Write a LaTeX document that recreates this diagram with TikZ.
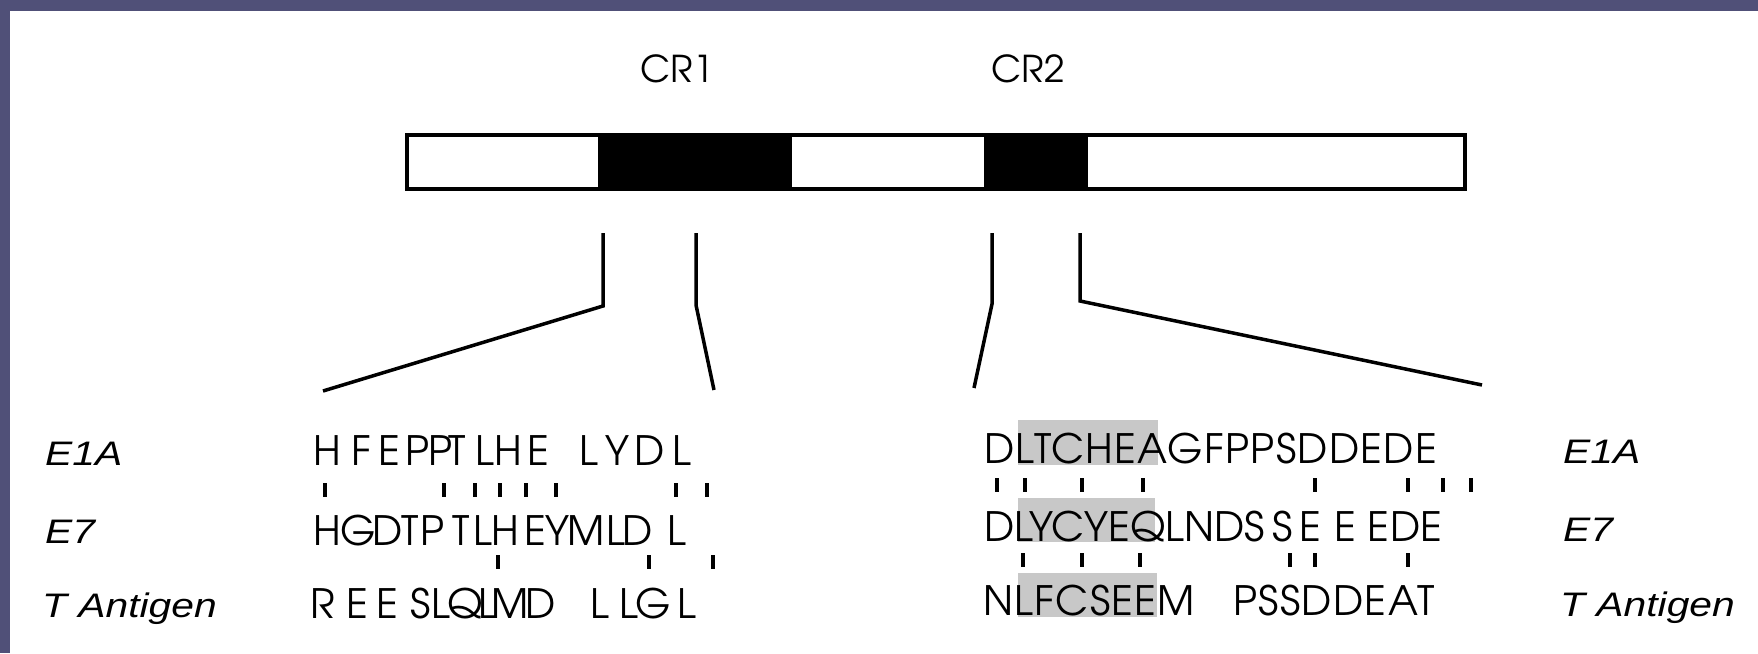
\documentclass[tikz,border=0pt]{standalone}
\usepackage{fontspec}
\newfontfamily\seqfont{texgyreadventor-regular.otf}
\newfontfamily\seqwide[LetterSpace=3.5]{texgyreadventor-regular.otf}
\newfontfamily\labfont[FakeStretch=1.2]{Liberation Sans}
\definecolor{slate}{RGB}{80,80,120}
\definecolor{boxgray}{RGB}{200,200,200}
\begin{document}
\begin{tikzpicture}[x=1pt,y=-1pt,
  seq/.style={font=\seqfont\fontsize{40.5pt}{40.5pt}\selectfont, inner sep=0pt, anchor=base},
  seqw/.style={font=\seqfont\fontsize{40.5pt}{40.5pt}\selectfont, inner sep=0pt, anchor=base west},
  seqx/.style={font=\seqwide\fontsize{40.5pt}{40.5pt}\selectfont, inner sep=0pt, anchor=base west},
  lab/.style={font=\labfont\itshape\fontsize{34pt}{34pt}\selectfont, inner sep=0pt, anchor=base west},
  crlab/.style={font=\seqfont\fontsize{37pt}{37pt}\selectfont, inner sep=0pt, anchor=base},
  zoomline/.style={line width=3.5pt, line join=miter, line cap=butt},
  tickmark/.style={line width=3.5pt},
  segment/.style={fill=black, inner sep=0pt, minimum height=54pt, anchor=north west},
  ]
% background frame
\fill[slate] (0,0) rectangle (1758,653);
\fill[white] (10,11) rectangle (1758,653);
\useasboundingbox (0,0) rectangle (1758,653);

% protein bar
\node[segment, minimum width=194pt] (cr1box) at (598,133) {};
\node[segment, minimum width=104pt] (cr2box) at (984,133) {};
\node[draw, line width=3.5pt, inner sep=0pt, minimum width=1058pt, minimum height=54pt, anchor=north west] (bar) at (405,133) {};

\node[crlab] (cr1) at (677,82) {CR1};
\node[crlab] (cr2) at (1028,82) {CR2};

% zoom lines
\coordinate (l1a) at (603,233); \coordinate (l1b) at (603,306); \coordinate (l1c) at (323,391);
\coordinate (l2a) at (696,233); \coordinate (l2b) at (696,305); \coordinate (l2c) at (714,390);
\coordinate (l3a) at (992,233); \coordinate (l3b) at (992,304); \coordinate (l3c) at (974,388);
\coordinate (l4a) at (1080,233); \coordinate (l4b) at (1080,301); \coordinate (l4c) at (1482,385);
\draw[zoomline] (l1a) -- (l1b) -- (l1c);
\draw[zoomline] (l2a) -- (l2b) -- (l2c);
\draw[zoomline] (l3a) -- (l3b) -- (l3c);
\draw[zoomline] (l4a) -- (l4b) -- (l4c);

% shaded LxCxE boxes
\fill[boxgray] (1018,420) rectangle (1158,465);
\fill[boxgray] (1018,498) rectangle (1155,542);
\fill[boxgray] (1018,573) rectangle (1157,617);

% left sequences (CR1)
\foreach \x/\c [count=\i] in {327/H,361/F,389/E,417/P,440/P,457/T,485/L,508/H,538/E,589/L,617/Y,650/D,682/L}
  \node[seq] (a\i) at (\x,465) {\c};
\foreach \x/\c [count=\i] in {327/H,358/G,388/D,410/T,432/P,461/T,483/L,505/H,535/E,557/Y,586/M,616/L,638/D,677/L}
  \node[seq] (b\i) at (\x,545) {\c};
\foreach \x/\c [count=\i] in {323/R,357/E,387/E,421/S,441/L,465/Q,488/L,510/M,541/D,600/L,629/L,653/G,687/L}
  \node[seq] (c\i) at (\x,618) {\c};

% right sequences (CR2)
\node[seqx] (d1) at (984,463) {DLTCHEAGFPPSDDEDE};
\node[seqw] (e1) at (984,541) {DLYCYEQLNDS};
\node[seq] (e2) at (1283,541) {S};
\node[seq] (e3) at (1310,541) {E};
\node[seq] (e4) at (1345,541) {E};
\node[seq] (e5) at (1378,541) {E};
\node[seqw] (e6) at (1390,541) {DE};
\node[seqx] (f1) at (983,615) {NLFCSEEM};
\node[seqx] (f2) at (1233,615) {PSSDDEAT};

% identity ticks
\foreach \x in {325,444,475,500,526,556,676,707}
  \draw[tickmark] (\x,483) -- (\x,497);
\foreach \x in {997,1025,1082,1143,1315,1408,1443,1471}
  \draw[tickmark] (\x,478) -- (\x,492);
\foreach \x in {498,649,713}
  \draw[tickmark] (\x,555) -- (\x,569);
\foreach \x in {1023,1082,1140,1290,1315,1408}
  \draw[tickmark] (\x,553) -- (\x,567);

% species labels
\node[lab] (le1a) at (45,465) {E1A};
\node[lab] (le7) at (45,543) {E7};
\node[lab] (lta) at (42,617) {T Antigen};
\node[lab] (re1a) at (1563,463) {E1A};
\node[lab] (re7) at (1563,541) {E7};
\node[lab] (rta) at (1560,616) {T Antigen};
\end{tikzpicture}
\end{document}
